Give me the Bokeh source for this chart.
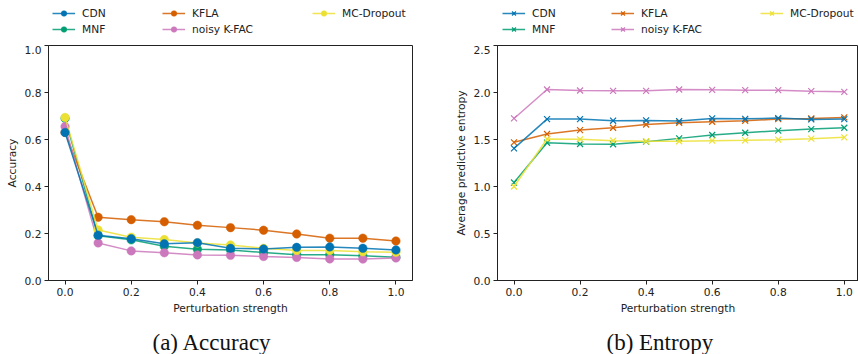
from bokeh.plotting import figure
from bokeh.layouts import row, column
from bokeh.models import Legend, LegendItem, Range1d, FixedTicker, PrintfTickFormatter, Label
from bokeh.embed import file_html
from bokeh.resources import INLINE

strength = [0.0, 0.1, 0.2, 0.3, 0.4, 0.5, 0.6, 0.7, 0.8, 0.9, 1.0]
methods = ["CDN", "MNF", "KFLA", "noisy K-FAC", "MC-Dropout"]
colors = {"CDN": "#0173b2", "MNF": "#029e73", "KFLA": "#d55e00",
          "noisy K-FAC": "#cc78bc", "MC-Dropout": "#ece133"}

acc_cdn = [0.63, 0.193, 0.178, 0.156, 0.161, 0.137, 0.134, 0.141, 0.143, 0.137, 0.130]
acc_mnf = [0.69, 0.190, 0.173, 0.146, 0.133, 0.130, 0.119, 0.110, 0.110, 0.105, 0.099]
acc_kfla = [0.63, 0.269, 0.259, 0.250, 0.235, 0.225, 0.214, 0.198, 0.180, 0.180, 0.168]
acc_nkfac = [0.655, 0.160, 0.126, 0.118, 0.109, 0.107, 0.102, 0.098, 0.092, 0.091, 0.096]
acc_mcd = [0.694, 0.215, 0.184, 0.174, 0.160, 0.151, 0.137, 0.128, 0.128, 0.122, 0.120]

ent_cdn = [1.406, 1.717, 1.717, 1.700, 1.703, 1.696, 1.724, 1.720, 1.728, 1.714, 1.717]
ent_mnf = [1.042, 1.466, 1.452, 1.449, 1.477, 1.512, 1.548, 1.572, 1.594, 1.611, 1.625]
ent_kfla = [1.470, 1.558, 1.600, 1.625, 1.660, 1.678, 1.689, 1.700, 1.717, 1.724, 1.735]
ent_nkfac = [1.724, 2.032, 2.021, 2.018, 2.018, 2.032, 2.028, 2.025, 2.025, 2.014, 2.007]
ent_mcd = [1.000, 1.505, 1.502, 1.488, 1.481, 1.481, 1.488, 1.491, 1.498, 1.509, 1.523]

acc = {"CDN": acc_cdn, "MNF": acc_mnf, "KFLA": acc_kfla, "noisy K-FAC": acc_nkfac, "MC-Dropout": acc_mcd}
ent = {"CDN": ent_cdn, "MNF": ent_mnf, "KFLA": ent_kfla, "noisy K-FAC": ent_nkfac, "MC-Dropout": ent_mcd}

x_ticks = [0.0, 0.2, 0.4, 0.6, 0.8, 1.0]
acc_ticks = [0.0, 0.2, 0.4, 0.6, 0.8, 1.0]
ent_ticks = [0.0, 0.5, 1.0, 1.5, 2.0, 2.5]

FONT = "DejaVu Sans"
FS = "10.7px"
draw_order = ["MNF", "KFLA", "noisy K-FAC", "MC-Dropout", "CDN"]
legend_cols = [["CDN", "MNF"], ["KFLA", "noisy K-FAC"], ["MC-Dropout"]]

TOP = 45      # legend strip height
CAP = 34      # caption strip height
MAIN = 354 - TOP - CAP


def add_marks(p, data, marker):
    rends = {}
    for m in draw_order:
        c = colors[m]
        ln = p.line(strength, data[m], line_color=c, line_width=1.5, line_alpha=0.85)
        if marker == "circle":
            sc = p.scatter(strength, data[m], marker="circle", size=8.5, fill_color=c,
                           line_color=c, line_width=0.5)
        else:
            sc = p.scatter(strength, data[m], marker="x", size=8.5, line_color=c, line_width=1.2)
        rends[m] = [ln, sc]
    return rends


def strip(width, height, yr):
    f = figure(width=width, height=height, output_backend="svg", toolbar_location=None,
               x_range=Range1d(0, 1), y_range=yr,
               min_border_left=0, min_border_right=0, min_border_top=0, min_border_bottom=0)
    f.xaxis.visible = False
    f.yaxis.visible = False
    f.xgrid.visible = False
    f.ygrid.visible = False
    f.outline_line_color = None
    return f


def make_panel(data, yticks, yend, ylabel, marker, caption, width, mb_left, mb_right,
               xend, leg_x, cap_x):
    # legend strip above the axes (series kept out of its view, only legend glyphs show)
    lf = strip(width, TOP, Range1d(10, 11))
    lrends = add_marks(lf, data, marker)
    for ci, col in enumerate(legend_cols):
        items = [LegendItem(label=m, renderers=lrends[m]) for m in col]
        bottom = 9 if len(col) == 2 else 25
        leg = Legend(items=items, location=(leg_x[ci], bottom), orientation="vertical",
                     padding=0, margin=0, spacing=2, glyph_width=23, glyph_height=14,
                     label_height=14, label_standoff=7, border_line_color=None,
                     background_fill_alpha=0, label_text_font=FONT, label_text_font_size=FS,
                     label_text_color="#222222")
        lf.add_layout(leg, "center")

    p = figure(width=width, height=MAIN, output_backend="svg", toolbar_location=None,
               x_range=Range1d(-0.05, xend), y_range=Range1d(0, yend),
               min_border_left=mb_left, min_border_right=mb_right,
               min_border_top=0, min_border_bottom=40)
    p.xgrid.visible = False
    p.ygrid.visible = False
    p.outline_line_color = "#222222"
    p.outline_line_width = 1
    for ax in (p.xaxis[0], p.yaxis[0]):
        ax.axis_line_color = "#222222"
        ax.major_tick_line_color = "#222222"
        ax.major_tick_in = 0
        ax.major_tick_out = 4
        ax.minor_tick_line_color = None
        ax.major_label_text_font = FONT
        ax.major_label_text_font_size = FS
        ax.major_label_text_color = "#222222"
        ax.major_label_standoff = 3
        ax.axis_label_text_font = FONT
        ax.axis_label_text_font_size = FS
        ax.axis_label_text_font_style = "normal"
        ax.axis_label_text_color = "#222222"
        ax.axis_label_standoff = 3
        ax.formatter = PrintfTickFormatter(format="%.1f")
    p.xaxis[0].ticker = FixedTicker(ticks=x_ticks)
    p.yaxis[0].ticker = FixedTicker(ticks=yticks)
    p.xaxis[0].axis_label = "Perturbation strength"
    p.yaxis[0].axis_label = ylabel

    add_marks(p, data, marker)

    # caption strip (y in pixels from strip bottom)
    cf = strip(width, CAP, Range1d(0, CAP))
    cf.x_range = Range1d(0, width - mb_left - mb_right)
    cf.add_layout(Label(x=cap_x, y=12, text=caption, text_font="Liberation Serif",
                        text_font_size="23px", text_color="#111111",
                        text_baseline="alphabetic", text_align="left"))
    return column(lf, p, cf, spacing=0)


p1 = make_panel(acc, acc_ticks, 1.0, "Accuracy", "circle", "(a) Accuracy",
                430, 48, 18, 1.05, [4, 114, 264], 104)
p2 = make_panel(ent, ent_ticks, 2.5, "Average predictive entropy", "x", "(b) Entropy",
                428, 67, 0, 1.043, [5, 114, 263], 109)

layout = row(p1, p2, spacing=0)
open("out.html", "w").write(file_html(layout, INLINE))
